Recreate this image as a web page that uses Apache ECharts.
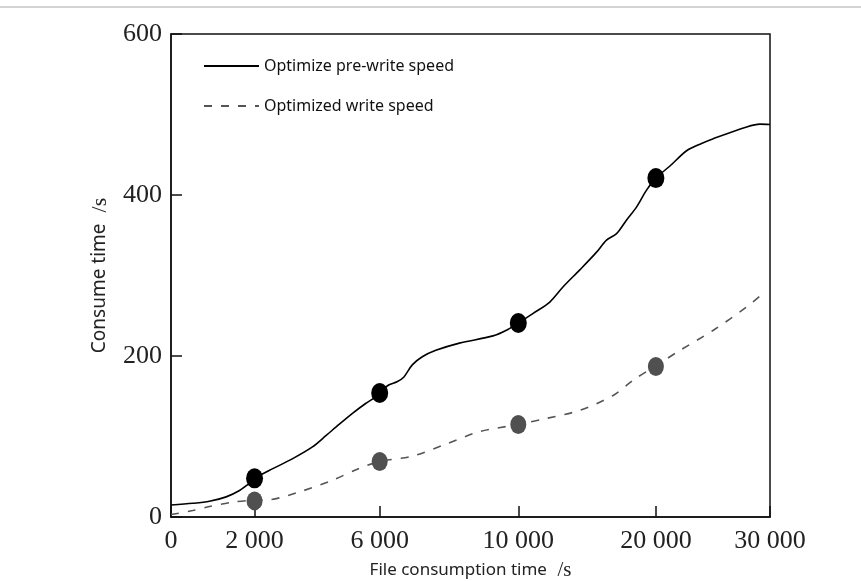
<!DOCTYPE html>
<html>
<head>
<meta charset="utf-8">
<script src="https://cdn.jsdelivr.net/npm/echarts@6/dist/echarts.min.js"></script>
<style>html,body{margin:0;padding:0;background:#fff}#c{width:861px;height:581px}</style>
</head>
<body>
<div id="c"></div>
<script>
// ---- data ----
const xTickValues = [0, 2000, 6000, 10000, 20000, 30000];
const xTickLabels = ['0', '2 000', '6 000', '10 000', '20 000', '30 000'];
const yTickValues = [0, 200, 400, 600];

const preWriteX = [0, 520, 920, 1320, 1640, 1880, 2000, 2480, 3220, 3850, 4280, 4700, 5120, 5550, 5860, 6000, 6260, 6500, 6700, 6940, 7230, 7620, 8300, 9270, 9700, 10000, 11080, 12290, 13260, 14470, 15690, 16410, 17140, 17870, 18590, 19320, 20000, 21230, 22690, 24000, 25030, 27960, 29120, 30000];
const preWriteY = [15, 17, 19.5, 25, 33, 42, 48, 58, 72.5, 87, 101, 115, 128.5, 141, 149, 154, 164, 168, 174, 189, 199, 207, 216, 225, 233, 241, 253, 267, 286, 307, 329, 344, 352, 369, 385, 406, 421, 436, 455, 464, 470, 484.5, 488, 487.5];

const writeX = [0, 520, 920, 1480, 2000, 2480, 3420, 4480, 5320, 6000, 6940, 7910, 8880, 10000, 12050, 14470, 16890, 18350, 20000, 22110, 25030, 27960, 29560];
const writeY = [3, 8, 13, 18.5, 21, 21.5, 31, 45.5, 60, 69, 75.5, 90.5, 106, 115, 122.5, 132.5, 151, 170, 188, 207, 232, 261, 280];

const markerX = [2000, 6000, 10000, 20000];
const preWriteMarkers = [48, 154, 241, 421];
const writeMarkers = [20, 69, 115, 187];

const seriesNames = ['Optimize pre-write speed', 'Optimized write speed'];

// ---- axis layout: the original x axis is non-uniform; ticks sit at these fractions (percent of axis length)
const xTickAt = [0, 13.95, 34.84, 57.98, 80.95, 100];
function toAxis(x) {
  for (let i = 0; i < xTickValues.length - 1; i++) {
    const v0 = xTickValues[i], v1 = xTickValues[i + 1];
    if (x >= v0 && x <= v1) {
      return xTickAt[i] + (x - v0) / (v1 - v0) * (xTickAt[i + 1] - xTickAt[i]);
    }
  }
  return x < 0 ? 0 : 100;
}
function pairs(xs, ys) { return xs.map((x, i) => [toAxis(x), ys[i]]); }
function labelFor(v) {
  for (let i = 0; i < xTickAt.length; i++) if (Math.abs(xTickAt[i] - v) < 1e-6) return xTickLabels[i];
  return '';
}

const chart = echarts.init(document.getElementById('c'), null, {renderer: 'canvas'});
const serif = 'Liberation Serif';
const sans = 'Noto Sans';
chart.setOption({
  animation: false,
  backgroundColor: '#fff',
  grid: {left: 171, right: 91, top: 34, bottom: 64, show: true, borderColor: '#111', borderWidth: 1.5,
         backgroundColor: 'transparent', outerBoundsMode: 'none', containLabel: false},
  graphic: [{type: 'line', shape: {x1: 0, y1: 7, x2: 861, y2: 7}, style: {stroke: '#c4c4c4', lineWidth: 1.5}, silent: true}],
  legend: {
    data: seriesNames,
    orient: 'vertical', left: 203, top: 58, padding: 0,
    itemWidth: 55, itemHeight: 14, itemGap: 24,
    itemStyle: {opacity: 0},
    textStyle: {fontFamily: sans, fontSize: 16, color: '#111'},
    selectedMode: false
  },
  xAxis: {
    type: 'value', min: 0, max: 100,
    axisLine: {lineStyle: {color: '#111', width: 1.5}},
    axisTick: {inside: true, length: 11, lineStyle: {color: '#111', width: 1.5}, customValues: xTickAt},
    axisLabel: {customValues: xTickAt, formatter: labelFor, fontFamily: serif, fontSize: 26, color: '#222', margin: 11},
    splitLine: {show: false},
    name: '{a|File consumption time}{b|  /s}',
    nameLocation: 'middle', nameGap: 43,
    nameTextStyle: {rich: {a: {fontFamily: sans, fontSize: 17, color: '#222'}, b: {fontFamily: serif, fontSize: 21, color: '#222'}}}
  },
  yAxis: {
    type: 'value', min: 0, max: 600, interval: 200,
    axisLine: {show: true, lineStyle: {color: '#111', width: 1.5}},
    axisTick: {show: true, inside: true, length: 11, lineStyle: {color: '#111', width: 1.5}},
    axisLabel: {fontFamily: serif, fontSize: 26, color: '#222', margin: 9,
      formatter: v => yTickValues.indexOf(v) >= 0 ? String(v) : ''},
    splitLine: {show: false},
    name: '{a|Consume time}{b|  /s}',
    nameLocation: 'middle', nameGap: 60, nameRotate: 90,
    nameTextStyle: {rich: {a: {fontFamily: sans, fontSize: 19, color: '#222'}, b: {fontFamily: serif, fontSize: 22, color: '#222'}}}
  },
  series: [
    {name: seriesNames[0], type: 'line', data: pairs(preWriteX, preWriteY), smooth: 0.3, symbol: 'none',
     lineStyle: {color: '#000', width: 1.6}, itemStyle: {color: '#000'}, z: 2},
    {name: seriesNames[1], type: 'line', data: pairs(writeX, writeY), smooth: 0.3, symbol: 'none',
     lineStyle: {color: '#555', width: 1.6, type: [8, 9]}, itemStyle: {color: '#555'}, z: 2},
    {name: 'pre-write points', type: 'scatter', data: pairs(markerX, preWriteMarkers), symbol: 'circle', symbolSize: [17, 20],
     itemStyle: {color: '#000', opacity: 1}, z: 4},
    {name: 'write points', type: 'scatter', data: pairs(markerX, writeMarkers), symbol: 'circle', symbolSize: [16, 19],
     itemStyle: {color: '#505050', opacity: 1}, z: 4}
  ]
});
</script>
</body>
</html>
